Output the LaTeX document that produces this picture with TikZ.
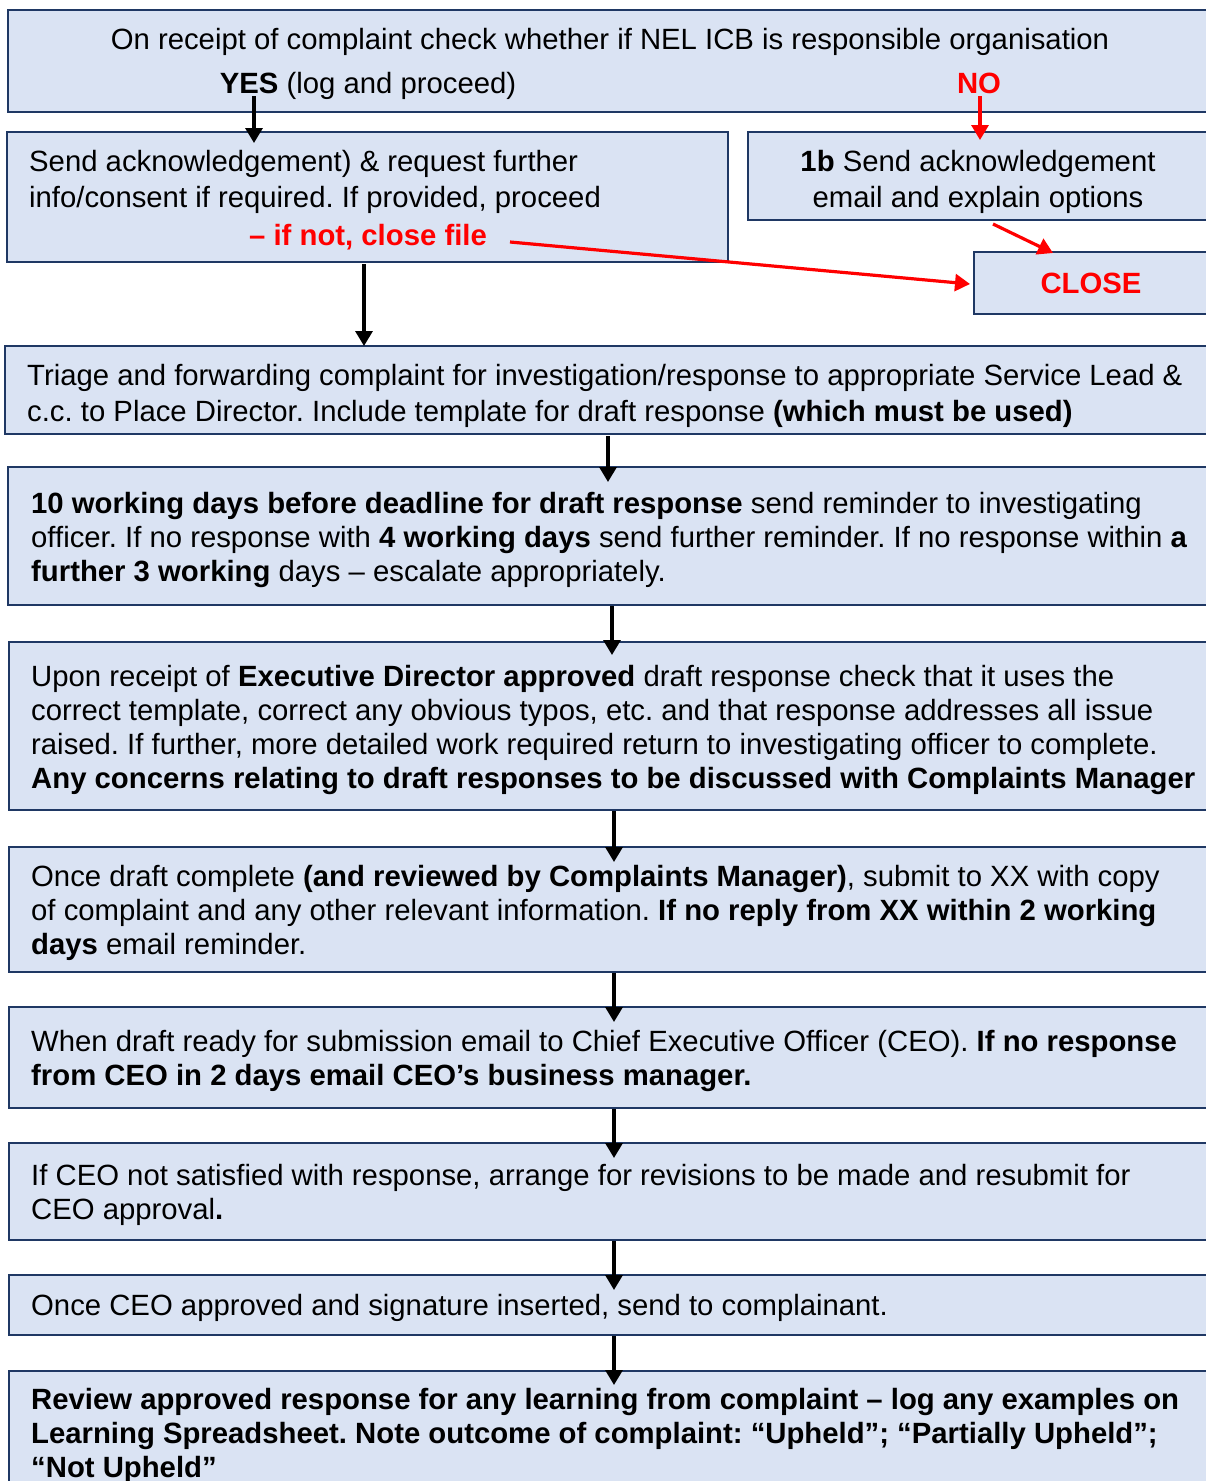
\documentclass[tikz,border=0pt]{standalone}
\usepackage{fontspec}
\setmainfont{Liberation Sans}
\usetikzlibrary{arrows.meta,calc}
\definecolor{boxfill}{HTML}{DAE3F3}
\definecolor{boxline}{HTML}{1F3864}
\definecolor{redline}{HTML}{FF0000}
\newcommand{\fsA}{\frenchspacing\fontsize{29.3}{34}\selectfont}
\newcommand{\fsB}{\frenchspacing\fontsize{29.3}{36}\selectfont}
\tikzset{
  x=1pt, y=1pt,
  flowbox/.style={draw=boxline, fill=boxfill, line width=2.2pt, rectangle, anchor=north west, inner sep=0pt, outer sep=0pt},
  txt/.style={anchor=west, align=left, inner sep=0pt, font=\fsA},
  txtB/.style={anchor=west, align=left, inner sep=0pt, font=\fsB},
  blackarrow/.style={line width=3.2pt, black, -{Triangle[length=15pt,width=17pt]}},
  redarrow/.style={line width=3.2pt, redline, -{Triangle[length=15pt,width=17pt]}}
}
\begin{document}
\begin{tikzpicture}
\useasboundingbox (0,0) rectangle (1206,-1481);
\clip (0,0) rectangle (1206,-1481);
% boxes
\node[flowbox, minimum width=1204, minimum height=102] (b1) at (8,-10) {};
\node[flowbox, minimum width=721, minimum height=130] (b2) at (7,-132) {};
\node[flowbox, minimum width=464, minimum height=88] (b1b) at (748,-132) {};
\node[flowbox, minimum width=238, minimum height=62] (close) at (974,-252) {};
\node[flowbox, minimum width=1207, minimum height=88] (b3) at (5,-346) {};
\node[flowbox, minimum width=1204, minimum height=138] (b4) at (8,-467) {};
\node[flowbox, minimum width=1203, minimum height=168] (b5) at (9,-642) {};
\node[flowbox, minimum width=1203, minimum height=125] (b6) at (9,-847) {};
\node[flowbox, minimum width=1203, minimum height=101] (b7) at (9,-1007) {};
\node[flowbox, minimum width=1203, minimum height=97] (b8) at (9,-1143) {};
\node[flowbox, minimum width=1203, minimum height=60] (b9) at (9,-1275) {};
\node[flowbox, minimum width=1203, minimum height=124] (b10) at (9,-1371) {};

% texts
\node[font=\fsA, inner sep=0pt] (t1) at (610,-42) {On receipt of complaint check whether if NEL ICB is responsible organisation};
\node[font=\fsA, inner sep=0pt] (yes) at (368,-86) {\textbf{YES} (log and proceed)};
\node[font=\fsA, inner sep=0pt, text=redline] (no) at (979,-83) {\textbf{NO}};
\node[txtB] (t2) at (29,-182) {Send acknowledgement) \& request further\\info/consent if required. If provided, proceed};
\node[font=\fsA, inner sep=0pt, text=redline] (t2r) at (368,-237) {\textbf{– if not, close file}};
\node[font=\fsB, align=center, inner sep=0pt] (t1b) at (978,-182) {\textbf{1b} Send acknowledgement\\email and explain options};
\node[font=\fsA, inner sep=0pt, text=redline] (tclose) at (1091,-283) {\textbf{CLOSE}};
\node[txtB] (t3) at (27,-396) {Triage and forwarding complaint for investigation/response to appropriate Service Lead \&\\c.c. to Place Director. Include template for draft response \textbf{(which must be used)}};
\node[txt] (t4) at (31,-540) {\textbf{10 working days before deadline for draft response} send reminder to investigating\\officer. If no response with \textbf{4 working days} send further reminder. If no response within \textbf{a}\\\textbf{further 3 working} days – escalate appropriately.};
\node[txt] (t5) at (31,-730) {Upon receipt of \textbf{Executive Director approved} draft response check that it uses the\\correct template, correct any obvious typos, etc. and that response addresses all issue\\raised. If further, more detailed work required return to investigating officer to complete.\\\textbf{Any concerns relating to draft responses to be discussed with Complaints Manager}};
\node[txt] (t6) at (31,-913) {Once draft complete \textbf{(and reviewed by Complaints Manager)}, submit to XX with copy\\of complaint and any other relevant information. \textbf{If no reply from XX within 2 working}\\\textbf{days} email reminder.};
\node[txt] (t7) at (31,-1061) {When draft ready for submission email to Chief Executive Officer (CEO). \textbf{If no response}\\\textbf{from CEO in 2 days email CEO’s business manager.}};
\node[txt] (t8) at (31,-1195) {If CEO not satisfied with response, arrange for revisions to be made and resubmit for\\CEO approval\textbf{.}};
\node[txt] (t9) at (31,-1308) {Once CEO approved and signature inserted, send to complainant.};
\node[txt] (t10) at (31,-1436) {\textbf{Review approved response for any learning from complaint – log any examples on}\\\textbf{Learning Spreadsheet. Note outcome of complaint: “Upheld”; “Partially Upheld”;}\\\textbf{“Not Upheld”}};

% connector coordinates
\coordinate (yesA) at (254,-96);
\coordinate (noA) at (980,-96);
\coordinate (a2) at (364,-264);
\coordinate (a3) at (608,-436);
\coordinate (a4) at (612,-606);
\coordinate (a5) at (614,-811);
\coordinate (a6) at (614,-973);
\coordinate (a7) at (614,-1109);
\coordinate (a8) at (614,-1241);
\coordinate (a9) at (614,-1336);
\coordinate (r1) at (993,-224);
\coordinate (r1e) at (1053,-253);
\coordinate (r2) at (510,-242);

% black arrows
\draw[blackarrow] (yesA) -- ($(yesA |- b2.north)+(0,-11)$);
\draw[blackarrow] (a2) -- (a2 |- b3.north);
\draw[blackarrow] (a3) -- ($(a3 |- b4.north)+(0,-15)$);
\draw[blackarrow] (a4) -- ($(a4 |- b5.north)+(0,-13)$);
\draw[blackarrow] (a5) -- ($(a5 |- b6.north)+(0,-15)$);
\draw[blackarrow] (a6) -- ($(a6 |- b7.north)+(0,-15)$);
\draw[blackarrow] (a7) -- ($(a7 |- b8.north)+(0,-15)$);
\draw[blackarrow] (a8) -- ($(a8 |- b9.north)+(0,-15)$);
\draw[blackarrow] (a9) -- ($(a9 |- b10.north)+(0,-14)$);
% red arrows
\draw[redarrow] (noA) -- ($(noA |- b1b.north)+(0,-8)$);
\draw[redarrow] (r1) -- (r1e);
\draw[redarrow] (r2) -- ($(close.west)+(-4,-1)$);
\end{tikzpicture}
\end{document}
